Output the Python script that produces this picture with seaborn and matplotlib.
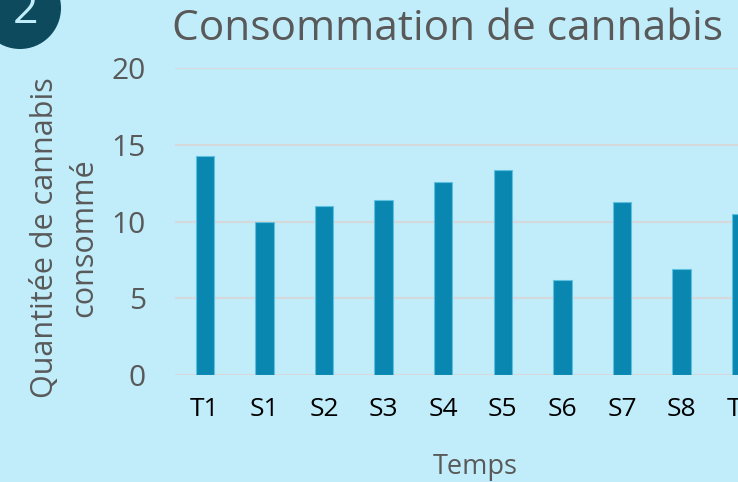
import matplotlib
matplotlib.use("Agg")
import matplotlib.pyplot as plt
from matplotlib.patches import Circle
import seaborn as sns
import pandas as pd

# --- DONNÉES ---
categories = ["T1", "S1", "S2", "S3", "S4", "S5", "S6", "S7", "S8", "T2"]
quantites = [14.3, 10.0, 11.0, 11.4, 12.6, 13.4, 6.2, 11.3, 6.9, 10.5]
y_ticks = [0, 5, 10, 15, 20]

titre = "Consommation de cannabis"
label_x = "Temps"
label_y = "Quantitée de cannabis\nconsommé"

# --- COULEURS ---
FOND = "#C1EDFB"
BARRE = "#0A87B1"
GRIS = "#595959"
GRILLE = "#D6D9DB"

df = pd.DataFrame({"Temps": categories, "Quantite": quantites})

sns.set_theme(style="white")
plt.rcParams["font.family"] = ["Open Sans", "DejaVu Sans"]

fig = plt.figure(figsize=(7.38, 4.82), dpi=100)
fig.patch.set_facecolor(FOND)

# l'axe déborde à droite (image recadrée)
ax = fig.add_axes([175 / 738, 107 / 482, 596 / 738, 306.7 / 482])
ax.set_facecolor(FOND)

ax.yaxis.grid(True, color=GRILLE, linewidth=1.6)
ax.set_axisbelow(True)

sns.barplot(data=df, x="Temps", y="Quantite", color=BARRE, saturation=1,
            width=0.31, edgecolor="#5EC0E0", linewidth=0.8, ax=ax)

ax.set_ylim(0, 20)
ax.set_xlim(-0.5, len(categories) - 0.5)
ax.set_yticks(y_ticks)
for s in ax.spines.values():
    s.set_visible(False)

ax.tick_params(axis="x", length=0, pad=16, labelsize=19, labelcolor="black")
ax.tick_params(axis="y", length=0, pad=21, labelsize=21.5, labelcolor=GRIS)

ax.set_xlabel("")
ax.set_ylabel("")

# titres
fig.text(447 / 738, 1 - 29 / 482, titre, ha="center", va="center",
         fontsize=30.5, color=GRIS)
fig.text(475 / 738, 1 - 467 / 482, label_x, ha="center", va="center",
         fontsize=19.5, color=GRIS)
fig.text(65 / 738, 1 - 238 / 482, label_y, ha="center", va="center",
         rotation=90, fontsize=22, color=GRIS, linespacing=1.4,
         multialignment="center")

# pastille numérotée en haut à gauche
fig.add_artist(Circle((0.20, 4.74), 0.41, transform=fig.dpi_scale_trans,
                      facecolor="#0D4A5D", edgecolor="none"))
fig.text(26 / 738, 1 - 12 / 482, "2", ha="center", va="center",
         fontsize=32, color=FOND)

plt.savefig("out.png", dpi=100, facecolor=FOND)
